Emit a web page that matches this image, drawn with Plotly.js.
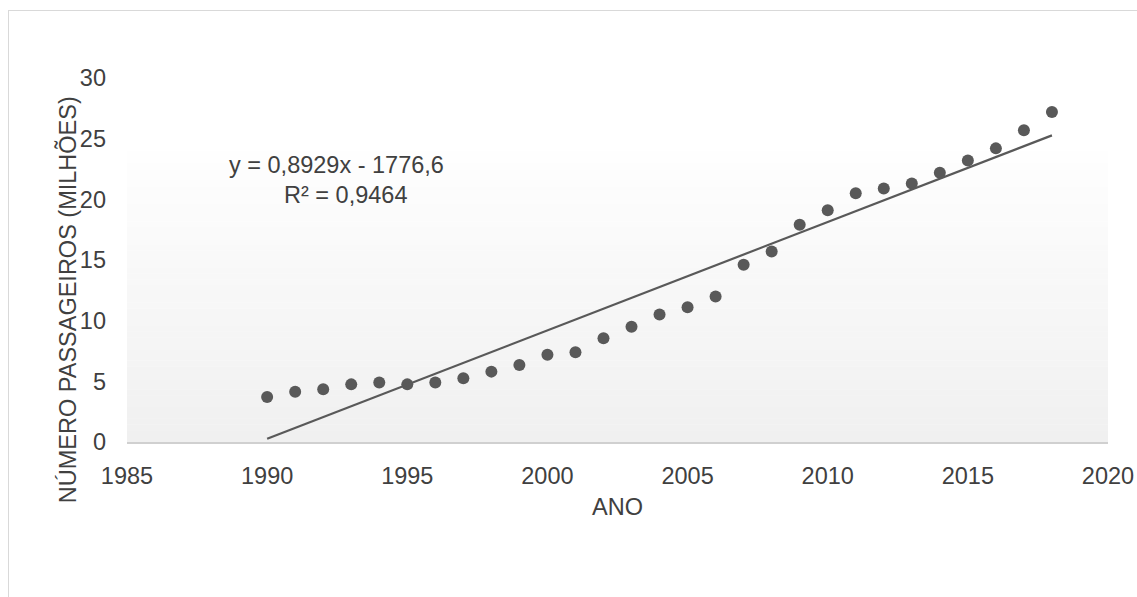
<!DOCTYPE html>
<html><head><meta charset="utf-8">
<script src="https://cdn.plot.ly/plotly-3.0.1.min.js"></script>
<style>
html,body{margin:0;padding:0;background:#fff;}
#frame{position:absolute;left:8px;top:10px;width:1140px;height:600px;border:1px solid #d9d9d9;box-sizing:border-box;}
#chart{position:absolute;left:0;top:0;width:1137px;height:597px;}
</style></head>
<body>
<div id="frame"></div>
<div id="chart"></div>
<script>
const years = [1990,1991,1992,1993,1994,1995,1996,1997,1998,1999,2000,2001,2002,2003,2004,2005,2006,2007,2008,2009,2010,2011,2012,2013,2014,2015,2016,2017,2018];
const passengers = [3.7,4.15,4.35,4.75,4.9,4.75,4.9,5.25,5.8,6.35,7.2,7.4,8.55,9.5,10.5,11.1,12.0,14.6,15.7,17.9,19.1,20.5,20.9,21.3,22.2,23.2,24.2,25.7,27.2];
const trendCoef = [0.8929, -1776.6];
const equationLabel = "y = 0,8929x - 1776,6";
const r2Label = "R² = 0,9464";
const xTitle = "ANO";
const yTitle = "NÚMERO PASSAGEIROS (MILHÕES)";
const xTickVals = [1985,1990,1995,2000,2005,2010,2015,2020];
const yTickVals = [0,5,10,15,20,25,30];

const trendX = [years[0], years[years.length-1]];
const trendY = trendX.map(x => trendCoef[0]*x + trendCoef[1]);

const font = "Liberation Sans, Arial, sans-serif";
const textColor = "#404040";
const fs = 23.5;

// gradient background strips
const shapes = [];
const N = 50, gradTop = 0.797;
for (let i = 0; i < N; i++) {
  const t = i / (N - 1);
  const c = Math.round(240 + (254 - 240) * t);
  shapes.push({type:'rect', xref:'paper', yref:'paper', x0:0, x1:1.0,
    y0: gradTop * i / N, y1: gradTop * (i + 1) / N + 0.001, fillcolor:`rgb(${c},${c},${c})`,
    line:{width:0}, layer:'below'});
}

const traces = [
  {x: years, y: passengers, type:'scatter', mode:'markers',
   marker:{color:'#595959', size:12}, hoverinfo:'x+y'},
  {x: trendX, y: trendY, type:'scatter', mode:'lines',
   line:{color:'#595959', width:2.2}, hoverinfo:'skip'}
];

const layout = {
  width:1137, height:597,
  margin:{l:127, r:29, t:78, b:155},
  paper_bgcolor:'rgba(0,0,0,0)', plot_bgcolor:'rgba(0,0,0,0)',
  showlegend:false,
  font:{family:font, size:fs, color:textColor},
  xaxis:{range:[1985,2020], tickvals:xTickVals, showgrid:false, zeroline:false,
    showline:true, linecolor:'#d0d0d0', linewidth:2, ticks:'', ticklen:0,
    ticklabelstandoff:12,
    tickfont:{family:font, size:fs, color:textColor}},
  yaxis:{range:[0,30], tickvals:yTickVals, showgrid:false, zeroline:false,
    showline:false, ticks:'', ticklabelstandoff:20,
    tickfont:{family:font, size:fs, color:textColor}},
  shapes: shapes,
  annotations:[
    {xref:'paper', yref:'paper', x:-0.061, y:0.39, xanchor:'center', yanchor:'middle',
     text:yTitle, textangle:-90, showarrow:false,
     font:{family:font, size:fs, color:textColor}},
    {xref:'paper', yref:'paper', x:0.4995, y:-0.179, xanchor:'center', yanchor:'middle',
     text:xTitle, showarrow:false,
     font:{family:font, size:fs, color:textColor}},
    {xref:'paper', yref:'paper', x:0.214, y:0.761, xanchor:'center', yanchor:'middle',
     text:equationLabel, showarrow:false,
     font:{family:font, size:fs, color:textColor}},
    {xref:'paper', yref:'paper', x:0.223, y:0.679, xanchor:'center', yanchor:'middle',
     text:r2Label, showarrow:false,
     font:{family:font, size:fs, color:textColor}}
  ]
};
Plotly.newPlot('chart', traces, layout, {displayModeBar:false, staticPlot:true});
</script>
</body></html>
